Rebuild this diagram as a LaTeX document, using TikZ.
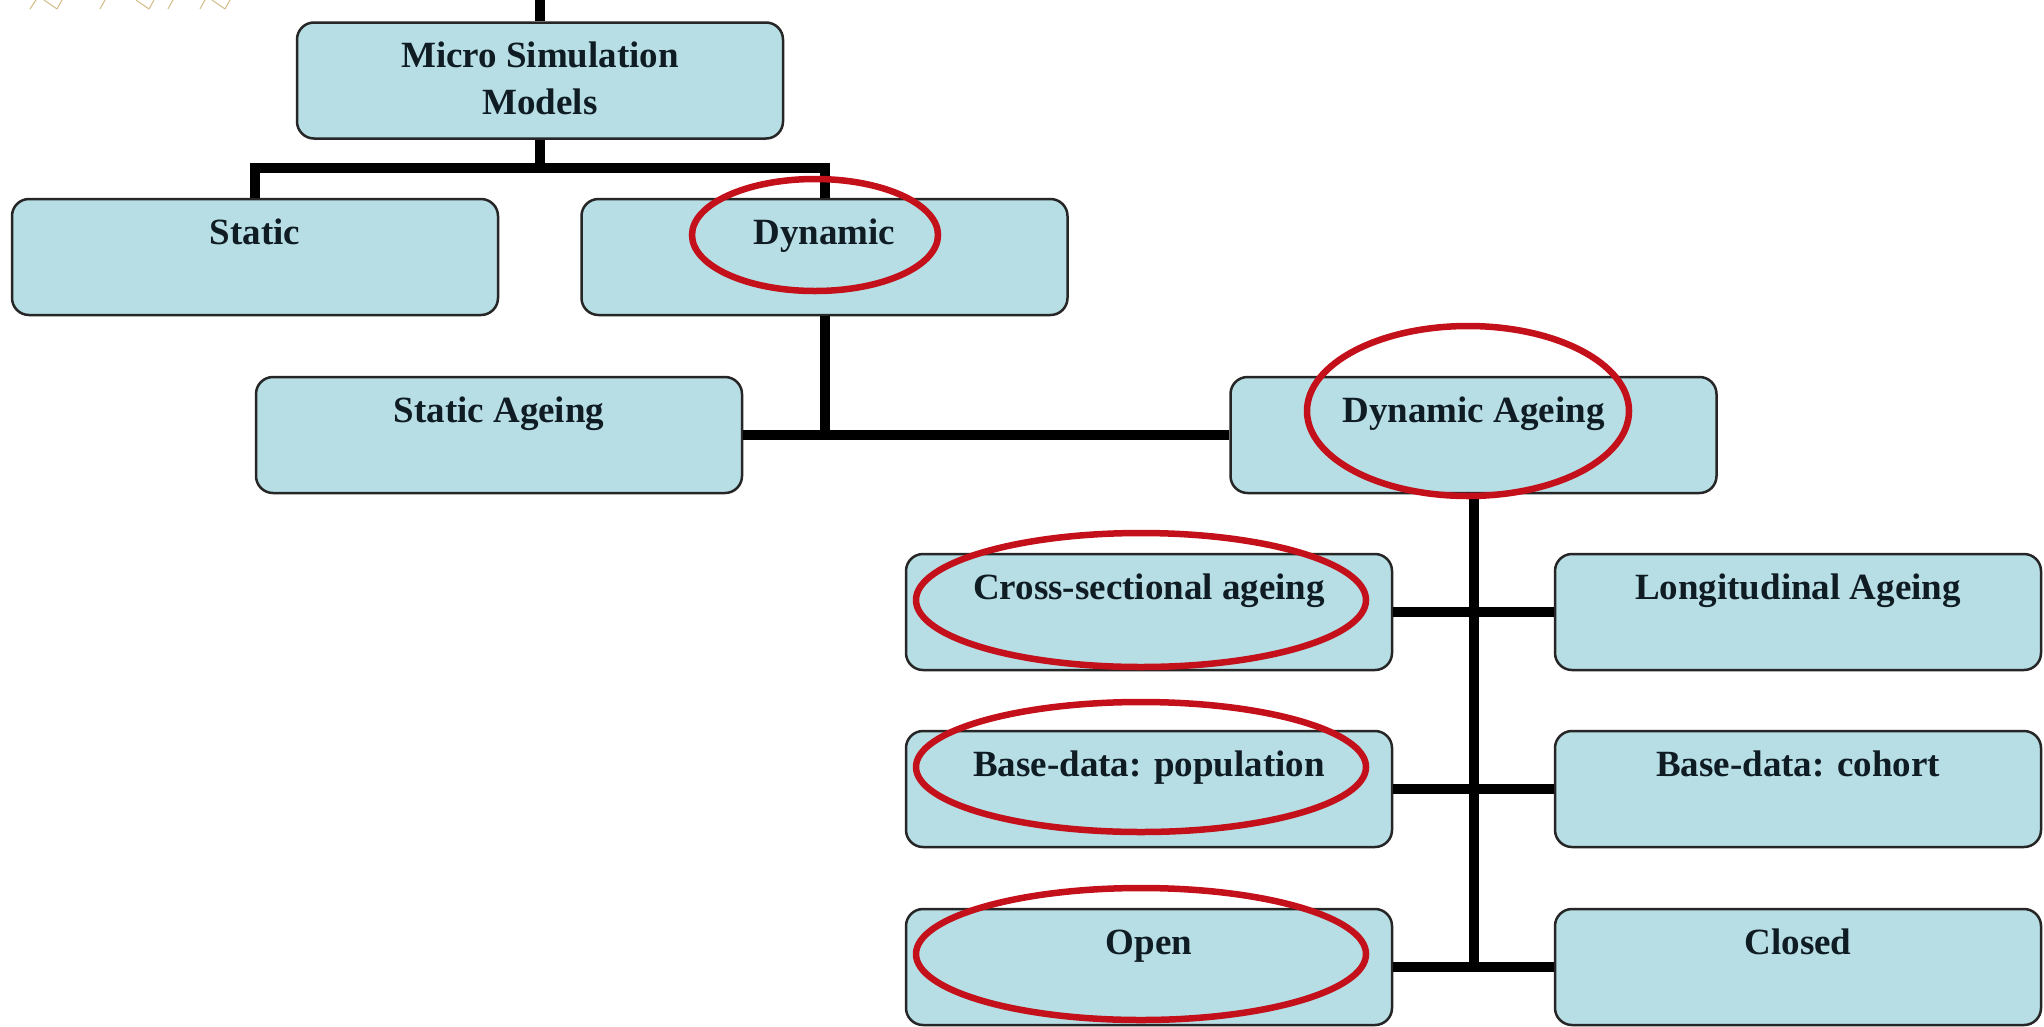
\documentclass[tikz,border=0pt]{standalone}
\usepackage{fontspec}
\setmainfont{Liberation Serif}
\definecolor{boxblue}{RGB}{183,222,228}
\definecolor{ringred}{RGB}{196,16,26}
\definecolor{txtc}{RGB}{16,28,36}
\definecolor{gold}{RGB}{210,188,135}
\tikzset{
  box/.style={draw=black!85, line width=2.5pt, rounded corners=17pt, fill=boxblue,
    minimum width=486pt, minimum height=116pt, inner sep=0pt},
  lbl/.style={anchor=base, text=txtc, font=\fontsize{37}{47}\selectfont\bfseries, inner sep=0pt, align=center},
  conn/.style={line width=10pt, draw=black},
  ring/.style={draw=ringred, line width=6.5pt},
  orn/.style={draw=gold, line width=1pt}
}
\begin{document}
\begin{tikzpicture}[x=1pt,y=-1pt]
\useasboundingbox (0,0) rectangle (2044,1026);
\fill[white] (0,0) rectangle (2044,1026);
% faint ornament at top-left
\draw[orn] (30,9)--(36,0) (44,0)--(57,9) (57,9)--(62,0);
\draw[orn] (100,9)--(105,0) (136,0)--(149,9) (149,9)--(154,0);
\draw[orn] (168,9)--(173,0) (200,9)--(205,0) (212,0)--(225,9) (225,9)--(230,0);
% boxes
\node[box] (micro) at (540,80.5) {};
\node[box] (static) at (255,257) {};
\node[box] (dyn) at (824.5,257) {};
\node[box] (sage) at (499,435) {};
\node[box] (dage) at (1473.5,435) {};
\node[box] (cross) at (1149,612) {};
\node[box] (longi) at (1798,612) {};
\node[box] (bpop) at (1149,789) {};
\node[box] (bcoh) at (1798,789) {};
\node[box] (open) at (1149,967) {};
\node[box] (closed) at (1798,967) {};
% connectors
\coordinate (topin) at (540,0);
\coordinate (j1) at (540,168);
\coordinate (j2) at (824.5,433);
\coordinate (j3) at (1473.5,967);
\draw[conn] (topin) -- (micro.north);
\draw[conn] (micro.south) -- (j1);
\draw[conn] (static.north) |- (j1) -| (dyn.north);
\draw[conn] (dyn.south) -- (j2);
\draw[conn] (sage.east) -- (dage.west);
\draw[conn] (dage.south) -- (j3);
\draw[conn] (cross.east) -- (longi.west);
\draw[conn] (bpop.east) -- (bcoh.west);
\draw[conn] (open.east) -- (closed.west);
% labels
\node[lbl] (tmicro) at ([yshift=-93pt]micro.north) {Micro Simulation\\Models};
\node[lbl] (tstatic) at ([yshift=-47pt]static.north) {Static};
\node[lbl] (tdyn) at ([yshift=-47pt]dyn.north) {Dynamic};
\node[lbl] (tsage) at ([yshift=-47pt]sage.north) {Static Ageing};
\node[lbl] (tdage) at ([yshift=-47pt]dage.north) {Dynamic Ageing};
\node[lbl] (tcross) at ([yshift=-47pt]cross.north) {Cross-sectional ageing};
\node[lbl] (tlongi) at ([yshift=-47pt]longi.north) {Longitudinal Ageing};
\node[lbl] (tbpop) at ([yshift=-47pt]bpop.north) {Base-data: population};
\node[lbl] (tbcoh) at ([yshift=-47pt]bcoh.north) {Base-data: cohort};
\node[lbl] (topen) at ([yshift=-47pt]open.north) {Open};
\node[lbl] (tclosed) at ([yshift=-47pt]closed.north) {Closed};
% red rings
\draw[ring] (815,235) ellipse [x radius=123, y radius=56];
\draw[ring] (1468,411) ellipse [x radius=161, y radius=85];
\draw[ring] (1141,600) ellipse [x radius=225, y radius=67];
\draw[ring] (1141,767) ellipse [x radius=225, y radius=65];
\draw[ring] (1141,954) ellipse [x radius=225, y radius=66];
\end{tikzpicture}
\end{document}
